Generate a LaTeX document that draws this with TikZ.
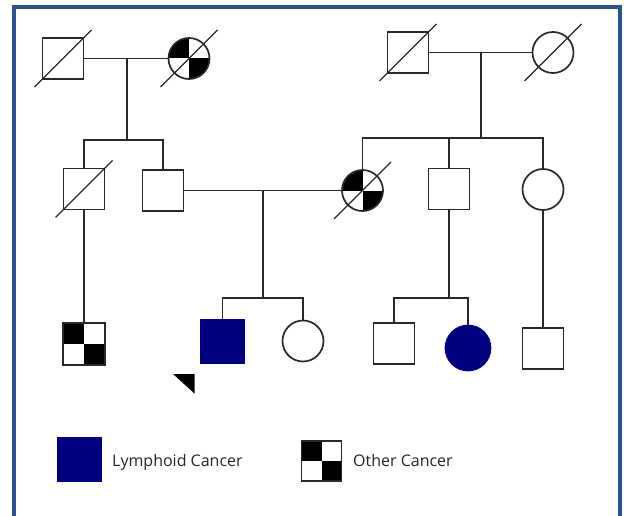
\documentclass[tikz,border=0pt]{standalone}
\usepackage{fontspec}
\setmainfont{Open Sans}
\usetikzlibrary{calc}
\definecolor{frameblue}{RGB}{44,82,146}
\definecolor{navyfill}{RGB}{0,0,128}
\definecolor{ink}{RGB}{40,40,40}
\begin{document}
\begin{tikzpicture}[x=1pt,y=-1pt,
  male/.style={draw=ink, line width=1.7pt, rectangle, minimum size=41pt, inner sep=0pt},
  female/.style={draw=ink, line width=1.7pt, circle, minimum size=41pt, inner sep=0pt},
  quad/.style={path picture={
     \fill[black] (path picture bounding box.center) rectangle (path picture bounding box.north west);
     \fill[black] (path picture bounding box.center) rectangle (path picture bounding box.south east);}},
  affected/.style={fill=navyfill, draw=navyfill},
  link/.style={draw=ink, line width=1.7pt},
  slash/.style={draw=ink, line width=1.1pt},
  legendtext/.style={font=\fontsize{16}{18}\selectfont, text=black!85, anchor=base west, inner sep=0pt}]
\useasboundingbox (0,0) rectangle (624,516);
% frame
\draw[frameblue, line width=3.5pt] (14,520) -- (14,7) -- (620,7) -- (620,520);

% generation 1
\node[male] (g1m1) at (63,58.5) {};
\node[female, quad] (g1f1) at (189,58.5) {};
\node[male] (g1m2) at (408,52.5) {};
\node[female] (g1f2) at (553,52.5) {};

% generation 2
\node[male] (g2m1) at (84,189) {};
\node[male] (g2m2) at (163,190.5) {};
\node[female, quad] (g2f1) at (362.5,190.5) {};
\node[male] (g2m3) at (449,189) {};
\node[female] (g2f2) at (543,189.5) {};

% generation 3
\node[male, quad, minimum size=42pt] (g3m1) at (84,344) {};
\node[male, affected, minimum size=43pt] (g3m2) at (222.5,341.5) {};
\node[female] (g3f1) at (303,341) {};
\node[male] (g3m3) at (394,343.5) {};
\node[female, affected, minimum size=45pt] (g3f2) at (468,348) {};
\node[male] (g3m4) at (543,348.5) {};

% slashes (deceased)
\foreach \n in {g1m1,g1f1,g1m2,g1f2,g2m1,g2f1}{
  \draw[slash] ($(\n.center)+(-28.5,28.5)$) -- ($(\n.center)+(28.5,-28.5)$);
}

% family 1
\coordinate (c1) at (127,140);
\draw[link] (g1m1.east) -- (g1f1.west);
\draw[link] (c1 |- g1m1.east) -- (c1);
\draw[link] (g2m1.north) -- (g2m1.north |- c1) -- (g2m2.north |- c1) -- (g2m2.north);

% family 2
\coordinate (c2) at (481,138);
\draw[link] (g1m2.east) -- (g1f2.west);
\draw[link] (c2 |- g1m2.east) -- (c2);
\draw[link] (g2f1.north) -- (g2f1.north |- c2) -- (g2f2.north |- c2) -- (g2f2.north);
\draw[link] (g2m3.north |- c2) -- (g2m3.north);

% family 3
\coordinate (c3) at (263,298);
\draw[link] (g2m2.east) -- (g2f1.west);
\draw[link] (c3 |- g2m2.east) -- (c3);
\draw[link] (g3m2.north) -- (g3m2.north |- c3) -- (g3f1.north |- c3) -- (g3f1.north);

% family 4 (from g2m3)
\coordinate (c4) at (449,298);
\draw[link] (g2m3.south) -- (c4);
\draw[link] (g3m3.north) -- (g3m3.north |- c4) -- (g3f2.north |- c4) -- (g3f2.north);

% single lines of descent
\draw[link] (g2m1.south) -- (g3m1.north);
\draw[link] (g2f2.south) -- (g3m4.north);

% proband arrow
\coordinate (pa) at (173,374);
\coordinate (pb) at (194.5,374);
\coordinate (pc) at (194.5,393.5);
\fill[black] (pa) -- (pb) -- (pc) -- cycle;

% legend
\node[male, affected, minimum size=43pt] (leg1) at (79.5,459.5) {};
\node[legendtext] (leg1t) at (112,466.5) {Lymphoid Cancer};
\node[male, quad, minimum size=40pt] (leg2) at (321.5,461) {};
\node[legendtext] (leg2t) at (353,466.5) {Other Cancer};
\end{tikzpicture}
\end{document}
